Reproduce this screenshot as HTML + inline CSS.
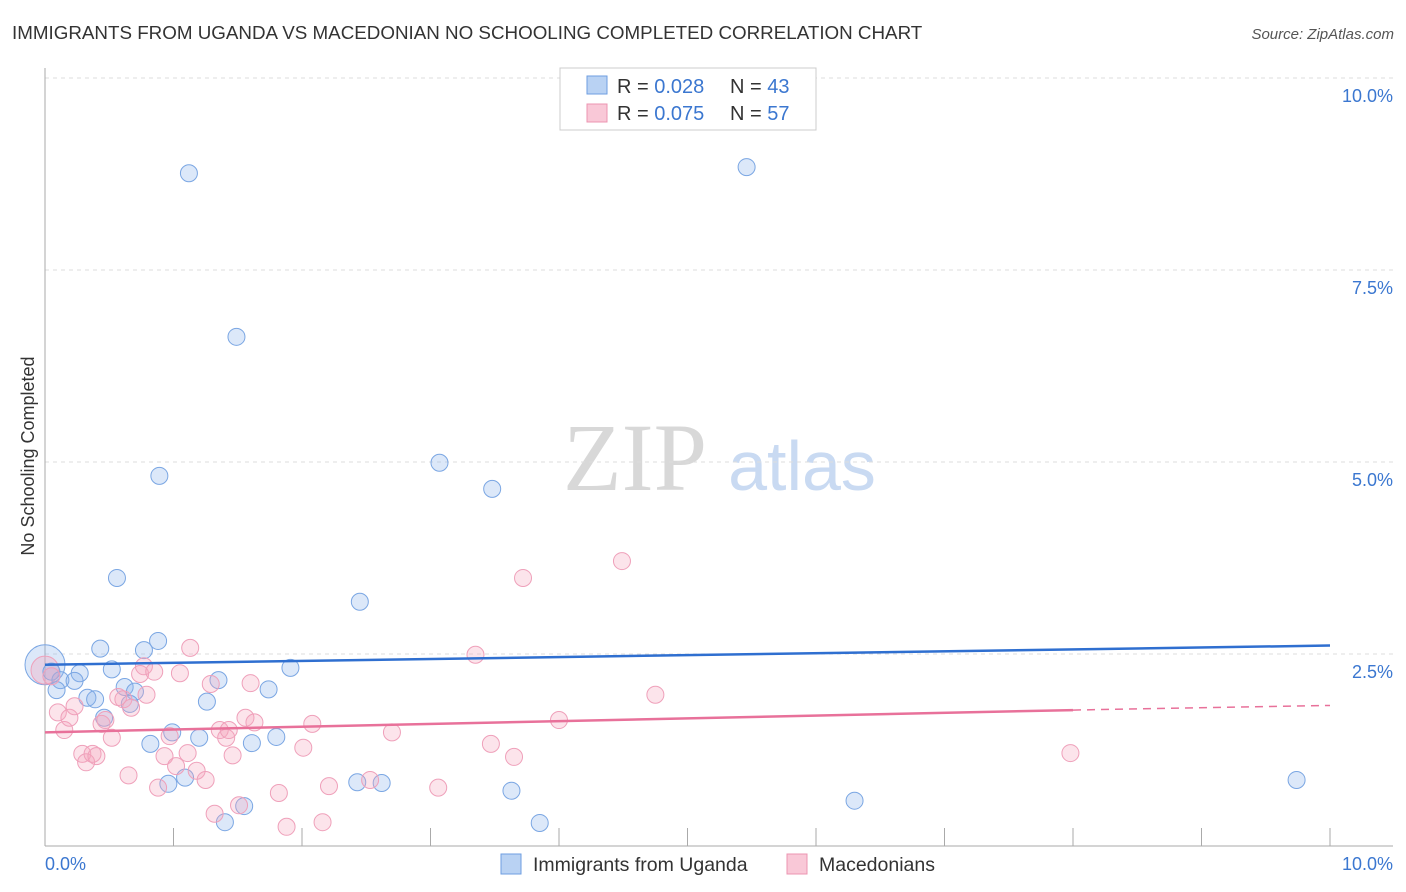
<!DOCTYPE html>
<html><head><meta charset="utf-8"><style>
body{margin:0;background:#fff;font-family:"Liberation Sans",sans-serif}
svg{display:block}
</style></head><body>
<svg id="c" width="1406" height="892" xmlns="http://www.w3.org/2000/svg">
<text x="12" y="39" font-size="18.8" fill="#333">IMMIGRANTS FROM UGANDA VS MACEDONIAN NO SCHOOLING COMPLETED CORRELATION CHART</text>
<text x="1394" y="39" font-size="15" fill="#555" text-anchor="end" font-style="italic">Source: ZipAtlas.com</text>
<text x="635" y="490" font-size="96" fill="#d8d8d8" font-family="Liberation Serif,serif" text-anchor="middle">ZIP</text>
<text x="802" y="490" font-size="70" fill="#c9daf2" text-anchor="middle">atlas</text>
<text transform="translate(34,456) rotate(-90)" font-size="18" fill="#333" text-anchor="middle">No Schooling Completed</text>
<g id="grid"></g><g id="pts"></g><g id="trend"></g>
<g>
<rect x="560" y="68" width="256" height="62" fill="#fff" stroke="#ccc"/>
<rect x="587" y="76" width="20" height="18" fill="#b9d2f3" stroke="#6e9ee0"/>
<rect x="587" y="104" width="20" height="18" fill="#f9c8d7" stroke="#ec94b1"/>
<text x="617" y="93" font-size="20" fill="#333">R = <tspan fill="#3b77d0">0.028</tspan></text>
<text x="730" y="93" font-size="20" fill="#333">N = <tspan fill="#3b77d0">43</tspan></text>
<text x="617" y="120" font-size="20" fill="#333">R = <tspan fill="#3b77d0">0.075</tspan></text>
<text x="730" y="120" font-size="20" fill="#333">N = <tspan fill="#3b77d0">57</tspan></text>
</g>
<g>
<rect x="501" y="854" width="20" height="20" fill="#b9d2f3" stroke="#6e9ee0"/>
<text x="533" y="871" font-size="19.5" fill="#333">Immigrants from Uganda</text>
<rect x="787" y="854" width="20" height="20" fill="#f9c8d7" stroke="#ec94b1"/>
<text x="819" y="871" font-size="19.5" fill="#333">Macedonians</text>
</g>
</svg>
<script>
const blueX=[1.12,5.46,1.49,0.89,3.07,3.48,0.56,2.45,0.88,0.43,0.77,1.91,0.27,0.52,0.05,0.12,0.23,1.35,1.74,0.62,0.70,0.33,0.39,1.26,0.66,0.46,0.99,1.20,1.80,1.61,0.82,1.09,0.96,2.43,2.62,1.55,1.40,3.63,3.85,6.30,9.74,0.09];
const blueY=[8.76,8.84,6.63,4.82,4.99,4.65,3.49,3.18,2.67,2.57,2.55,2.32,2.25,2.30,2.27,2.16,2.15,2.16,2.04,2.07,2.01,1.93,1.91,1.88,1.85,1.67,1.48,1.41,1.42,1.34,1.33,0.89,0.81,0.83,0.82,0.52,0.31,0.72,0.30,0.59,0.86,2.03];
const pinkX=[0.05,0.10,0.15,0.19,0.23,0.29,0.32,0.37,0.40,0.44,0.47,0.52,0.57,0.61,0.65,0.67,0.74,0.77,0.79,0.85,0.88,0.93,0.97,1.02,1.05,1.11,1.13,1.18,1.25,1.29,1.32,1.36,1.41,1.43,1.46,1.51,1.56,1.60,1.63,1.82,1.88,2.01,2.08,2.16,2.21,2.53,2.70,3.06,3.35,3.47,3.65,3.72,4.00,4.49,4.75,7.98];
const pinkY=[2.21,1.74,1.51,1.67,1.82,1.20,1.09,1.20,1.17,1.59,1.64,1.41,1.94,1.91,0.92,1.80,2.24,2.34,1.97,2.27,0.76,1.17,1.43,1.04,2.25,1.21,2.58,0.98,0.86,2.11,0.42,1.51,1.41,1.51,1.18,0.53,1.67,2.12,1.61,0.69,0.25,1.28,1.59,0.31,0.78,0.86,1.48,0.76,2.49,1.33,1.16,3.49,1.64,3.71,1.97,1.21];
const yTicks=[2.5,5.0,7.5,10.0];
const yTickLabels=["2.5%","5.0%","7.5%","10.0%"];
const blueTrend=[2.36,2.61];
const pinkTrend=[1.48,1.77,1.83];
const NS="http://www.w3.org/2000/svg";
const X=v=>45+v*128.5, Y=v=>846-v*76.8;
function mk(p,t,a){const e=document.createElementNS(NS,t);for(const k in a)e.setAttribute(k,a[k]);p.appendChild(e);return e;}
const grid=document.getElementById('grid'),pts=document.getElementById('pts'),tr=document.getElementById('trend');
yTicks.forEach((t,i)=>{
 const l=mk(grid,'line',{x1:45,x2:1393,y1:Y(t),y2:Y(t),stroke:'#ddd','stroke-dasharray':'4,4'});
 
 
 const tx=mk(grid,'text',{x:1393,y:Y(t)+24,'font-size':18,fill:'#3b77d0','text-anchor':'end'});
 tx.textContent=yTickLabels[i];
 
 
});
const ax=mk(grid,'line',{x1:45,x2:45,y1:68,y2:846,stroke:'#aaa'});


const bx=mk(grid,'line',{x1:45,x2:1393,y1:846,y2:846,stroke:'#aaa'});


for(let i=1;i<=10;i++){const t=mk(grid,'line',{x1:X(i),x2:X(i),y1:828,y2:846,stroke:'#aaa'});
 
 }
[[0,'0.0%','start',45],[10,'10.0%','end',1393]].forEach(d=>{const t=mk(grid,'text',{x:d[3],y:870,'font-size':18,fill:'#3b77d0','text-anchor':d[2]});t.textContent=d[1];
 
 });
let b1=mk(pts,'circle',{cx:X(0),cy:Y(2.36),r:20,fill:'rgba(140,180,235,0.3)',stroke:'#7aa6e3','stroke-width':1});


let p1=mk(pts,'circle',{cx:X(0),cy:Y(2.29),r:14,fill:'rgba(245,165,190,0.35)',stroke:'#efa0ba','stroke-width':1});


blueX.forEach((x,i)=>{const c=mk(pts,'circle',{cx:X(x),cy:Y(blueY[i]),r:8.5,fill:'rgba(140,180,235,0.3)',stroke:'#7aa6e3','stroke-width':1});
 
 });
pinkX.forEach((x,i)=>{const c=mk(pts,'circle',{cx:X(x),cy:Y(pinkY[i]),r:8.5,fill:'rgba(245,165,190,0.3)',stroke:'#efa0ba','stroke-width':1});
 
 });
let l1=mk(tr,'line',{x1:X(0),y1:Y(blueTrend[0]),x2:X(10),y2:Y(blueTrend[1]),stroke:'#2f6fd0','stroke-width':2.5});


let l2=mk(tr,'line',{x1:X(0),y1:Y(pinkTrend[0]),x2:X(8),y2:Y(pinkTrend[1]),stroke:'#e8719a','stroke-width':2.5});


let l3=mk(tr,'line',{x1:X(8),y1:Y(pinkTrend[1]),x2:X(10),y2:Y(pinkTrend[2]),stroke:'#e8719a','stroke-width':1.5,'stroke-dasharray':'8,6'});


</script>
</body></html>
